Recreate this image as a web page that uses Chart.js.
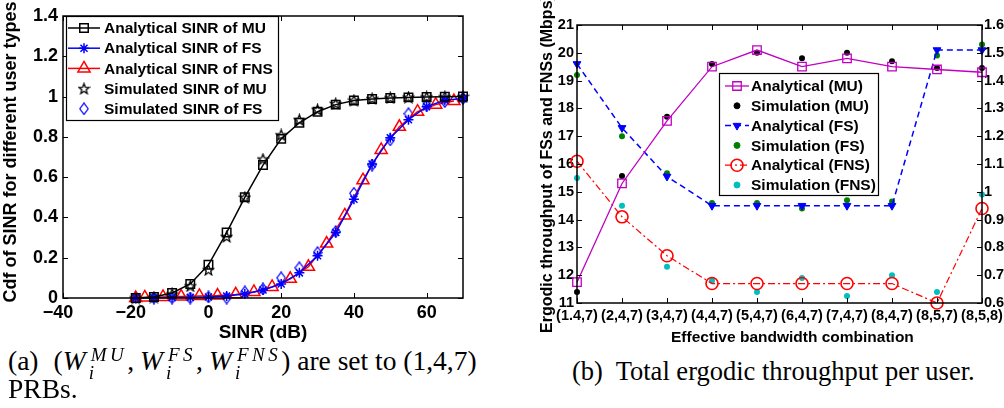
<!DOCTYPE html>
<html><head><meta charset="utf-8">
<script src="https://cdn.jsdelivr.net/npm/chart.js@4.4.1/dist/chart.umd.min.js"></script>
<style>
html,body{margin:0;padding:0;background:#fff;width:1004px;height:408px;overflow:hidden;position:relative}
canvas{position:absolute;top:0}
#cA{left:0}
#cB{left:500px}
.cap{position:absolute;font-family:'Liberation Serif','Times New Roman',serif;font-size:27.5px;line-height:30px;color:#000;white-space:nowrap}
.w{font-style:italic}
.ss{display:inline-block;position:relative;font-size:19px;font-style:italic;line-height:1;margin-left:5px}
.ss .sp{display:block;position:relative;top:-9px;letter-spacing:3.5px}
.ss .sb{position:absolute;left:-2px;top:9px}
.cm{margin-right:6px}
</style></head>
<body>
<canvas id="cA" width="480" height="345"></canvas>
<canvas id="cB" width="530" height="350"></canvas>
<div class="cap" style="left:8px;top:346px">(a)<span style="margin-left:15px">(</span><span class="w">W</span><span class="ss"><span class="sp">MU</span><span class="sb">i</span></span><span class="cm">,</span><span class="w">W</span><span class="ss"><span class="sp">FS</span><span class="sb">i</span></span><span class="cm">,</span><span class="w">W</span><span class="ss"><span class="sp">FNS</span><span class="sb">i</span></span>) are set to (1,4,7)</div>
<div class="cap" style="left:8px;top:374px">PRBs.</div>
<div class="cap" style="left:572px;top:356px;font-size:26.5px">(b)&nbsp; Total ergodic throughput per user.</div>
<script>
// ---------- (a) CDF of SINR ----------
const sinrDb = [-20,-15,-10,-5,0,5,10,15,20,25,30,35,40,45,50,55,60,65,70];
const cdfMuAnalytical = [0,0.005,0.025,0.07,0.165,0.325,0.5,0.66,0.79,0.87,0.925,0.96,0.98,0.988,0.993,0.996,0.998,0.999,1.0];
const cdfMuSimulated  = [0,0.004,0.02,0.06,0.14,0.305,0.5,0.69,0.81,0.885,0.935,0.965,0.982,0.99,0.994,0.997,0.998,0.999,1.0];
const cdfFsAnalytical = [0,0.001,0.002,0.003,0.005,0.01,0.02,0.04,0.07,0.125,0.21,0.325,0.49,0.665,0.795,0.885,0.95,0.982,0.99];
const cdfFsSimulated  = [0.002,0,0,0,0.005,0,0.03,0.045,0.1,0.15,0.225,0.33,0.52,0.66,0.785,0.915,0.955,0.975,0.99];
const sinrDbFns = [-20,-17.5,-12.5,-7.5,-2.5,2.5,7.5,12.5,17.5,22.5,27.5,32.5,37.5,42.5,47.5,52.5,57.5,62.5,67.5];
const cdfFnsAnalytical = [0,0.003,0.005,0.007,0.01,0.012,0.018,0.03,0.055,0.095,0.155,0.27,0.41,0.585,0.735,0.85,0.925,0.96,0.978];
const sinrTicks = [-40,-20,0,20,40,60];
const cdfTicks = [0,0.2,0.4,0.6,0.8,1,1.2,1.4];

// ---------- (b) Ergodic throughput ----------
const combos = ['(1.4,7)','(2,4,7)','(3,4,7)','(4,4,7)','(5,4,7)','(6,4,7)','(7,4,7)','(8,4,7)','(8,5,7)','(8,5,8)'];
const thrMuAnalytical  = [0.675,1.03,1.255,1.45,1.51,1.45,1.48,1.45,1.44,1.43];   // right axis
const thrMuSimulation  = [0.64,1.057,1.27,1.46,1.50,1.48,1.50,1.47,1.445,1.445];  // right axis
const thrFsAnalytical  = [19.6,17.3,15.55,14.5,14.5,14.5,14.5,14.5,20.1,20.1];
const thrFsSimulation  = [19.2,17.0,15.67,14.6,14.6,14.4,14.7,14.65,19.9,20.3];
const thrFnsAnalytical = [16.1,14.1,12.7,11.7,11.7,11.7,11.7,11.7,11.0,14.4];
const thrFnsSimulation = [15.5,14.5,12.3,11.8,11.4,11.9,11.25,12.0,11.4,14.9];
const leftTicks = [11,12,13,14,15,16,17,18,19,20,21];
const rightTicks = [0.6,0.7,0.8,0.9,1,1.1,1.2,1.3,1.4,1.5,1.6];

Chart.defaults.font.family = '"Liberation Sans", Arial, Helvetica, sans-serif';
Chart.defaults.font.weight = 'bold';
Chart.defaults.font.lineHeight = 1;
Chart.defaults.color = '#000';

function starImg(size, color){
  const c = document.createElement('canvas'); c.width = c.height = size;
  const g = c.getContext('2d'); const cx = size/2, cy = size/2+0.5, R = size/2-1, r = R*0.42;
  g.beginPath();
  for(let k=0;k<10;k++){ const a = -Math.PI/2 + k*Math.PI/5; const rr = k%2 ? r : R; g.lineTo(cx+rr*Math.cos(a), cy+rr*Math.sin(a)); }
  g.closePath(); g.strokeStyle = color; g.lineWidth = 1.3; g.stroke();
  return c;
}
function diamondImg(w, h, color){
  const c = document.createElement('canvas'); c.width = w; c.height = h;
  const g = c.getContext('2d');
  g.beginPath(); g.moveTo(w/2,0.8); g.lineTo(w-0.8,h/2); g.lineTo(w/2,h-0.8); g.lineTo(0.8,h/2); g.closePath();
  g.strokeStyle = color; g.lineWidth = 1.2; g.stroke();
  return c;
}
const fmt = v => String(Math.round(v*10)/10);
const fmtX = v => v < 0 ? String(v).replace('-', '\u2212') + '  ' : String(v);

const boxTicks = {
  id:'boxTicks',
  afterDatasetsDraw(chart){
    const {ctx, chartArea:a} = chart; const L = 5;
    ctx.save(); ctx.strokeStyle = '#000'; ctx.lineWidth = 1; ctx.setLineDash([]);
    ctx.beginPath();
    const x = chart.scales.x;
    x.ticks.forEach((t,i)=>{ const p = Math.round(x.getPixelForTick(i))+0.5; ctx.moveTo(p,a.bottom); ctx.lineTo(p,a.bottom-L); ctx.moveTo(p,a.top); ctx.lineTo(p,a.top+L); });
    const y = chart.scales.y, y1 = chart.scales.y1;
    y.ticks.forEach((t,i)=>{ const p = Math.round(y.getPixelForTick(i))+0.5; ctx.moveTo(a.left,p); ctx.lineTo(a.left+L,p); if(!y1){ ctx.moveTo(a.right,p); ctx.lineTo(a.right-L,p); } });
    if (y1) y1.ticks.forEach((t,i)=>{ const p = Math.round(y1.getPixelForTick(i))+0.5; ctx.moveTo(a.right,p); ctx.lineTo(a.right-L,p); });
    ctx.stroke();
    ctx.lineWidth = 1.5;
    ctx.strokeRect(a.left, a.top, a.right-a.left, a.bottom-a.top);
    ctx.restore();
  }
};
const boxLegend = {
  id:'boxLegend',
  afterDraw(chart, args, o){
    if(!o || !o.w) return;
    const ctx = chart.ctx; ctx.save();
    ctx.fillStyle = '#fff'; ctx.fillRect(o.x, o.y, o.w, o.h);
    ctx.strokeStyle = '#000'; ctx.lineWidth = 1.2; ctx.strokeRect(o.x+0.5, o.y+0.5, o.w, o.h);
    ctx.font = 'bold ' + o.fontSize + 'px "Liberation Sans", Arial, sans-serif';
    ctx.textBaseline = 'middle'; ctx.textAlign = 'left';
    chart.data.datasets.forEach((ds,i)=>{
      const yy = o.y0 + i*o.dy;
      if (ds.showLine !== false){
        ctx.strokeStyle = ds.borderColor; ctx.lineWidth = ds.borderWidth || 1;
        ctx.setLineDash(ds.borderDash || []);
        ctx.beginPath(); ctx.moveTo(o.lx0, yy); ctx.lineTo(o.lx1, yy); ctx.stroke();
        ctx.setLineDash([]);
      }
      ctx.fillStyle = ds.pointBackgroundColor || 'rgba(0,0,0,0)';
      ctx.strokeStyle = ds.pointBorderColor || ds.borderColor;
      ctx.lineWidth = ds.pointBorderWidth || 1;
      Chart.helpers.drawPoint(ctx, {pointStyle: ds.pointStyle, rotation: ds.pointRotation || 0, radius: ds.pointRadius, borderWidth: ds.pointBorderWidth || 1}, (o.lx0+o.lx1)/2, yy);
      ctx.fillStyle = '#000';
      ctx.fillText(ds.label, o.tx, yy + 1);
    });
    ctx.restore();
  }
};

const hollow = 'rgba(0,0,0,0)';
const pts = (xs, ys) => xs.map((x,i)=>({x, y: ys[i]}));
const noGrid = {display:false, drawTicks:false};

new Chart(document.getElementById('cA'), {
  type: 'line',
  data: { datasets: [
    { label:'Analytical SINR of MU', data: pts(sinrDb, cdfMuAnalytical), borderColor:'#000', borderWidth:1.5,
      pointStyle:'rect', pointRadius:6, pointBorderWidth:1.5, pointBackgroundColor:hollow, pointBorderColor:'#000', clip:false },
    { label:'Analytical SINR of FS', data: pts(sinrDb, cdfFsAnalytical), borderColor:'#0000ff', borderWidth:1.5,
      pointStyle:'star', pointRadius:5, pointBorderWidth:1.5, pointBackgroundColor:hollow, pointBorderColor:'#0000ff', clip:false },
    { label:'Analytical SINR of FNS', data: pts(sinrDbFns, cdfFnsAnalytical), borderColor:'#ff0000', borderWidth:1.5,
      pointStyle:'triangle', pointRadius:7, pointBorderWidth:1.5, pointBackgroundColor:hollow, pointBorderColor:'#ff0000', clip:false },
    { label:'Simulated SINR of MU', data: pts(sinrDb, cdfMuSimulated), showLine:false, borderColor:'#000',
      pointStyle: starImg(13,'#000'), pointRadius:6, clip:false },
    { label:'Simulated SINR of FS', data: pts(sinrDb, cdfFsSimulated), showLine:false, borderColor:'#0000ff',
      pointStyle: diamondImg(10,13,'#0000ff'), pointRadius:6, clip:false }
  ]},
  options: {
    responsive:false, animation:false, devicePixelRatio:1,
    layout:{ padding:{ left:0, top:16, right:17, bottom:3 } },
    plugins:{ legend:{display:false}, tooltip:{enabled:false},
      boxLegend:{ x:66, y:16, w:212, h:104, y0:28, dy:20.2, lx0:68, lx1:100, tx:104, fontSize:15.5 } },
    scales:{
      x:{ type:'linear', min:-40, max:70, grid:noGrid, border:{display:false},
          afterBuildTicks: s => { s.ticks = sinrTicks.map(v=>({value:v})); },
          afterFit: s => { s.height = 44; },
          ticks:{ font:{size:18}, padding:6, callback: fmtX, maxRotation:0 },
          title:{ display:true, text:'SINR (dB)', font:{size:19}, padding:0 } },
      y:{ type:'linear', min:0, max:1.4, grid:noGrid, border:{display:false},
          afterBuildTicks: s => { s.ticks = cdfTicks.map(v=>({value:v})); },
          afterFit: s => { s.width = 63; },
          ticks:{ font:{size:18}, padding:5, callback: fmt },
          title:{ display:true, text:'  Cdf of SINR for different user types', font:{size:18}, padding:{top:2,bottom:0} } }
    }
  },
  plugins:[boxTicks, boxLegend]
});

new Chart(document.getElementById('cB'), {
  type: 'line',
  data: { labels: combos, datasets: [
    { label:'Analytical (MU)', data: thrMuAnalytical, yAxisID:'y1', borderColor:'#c000c0', borderWidth:1.3,
      pointStyle:'rect', pointRadius:6, pointBorderWidth:1.3, pointBackgroundColor:hollow, pointBorderColor:'#c000c0', clip:false },
    { label:'Simulation (MU)', data: thrMuSimulation, yAxisID:'y1', showLine:false, borderColor:'#000',
      pointStyle:'circle', pointRadius:3, pointBorderWidth:0, pointBackgroundColor:'#000', pointBorderColor:'#000', clip:false },
    { label:'Analytical (FS)', data: thrFsAnalytical, yAxisID:'y', borderColor:'#0000ff', borderWidth:1.5, borderDash:[6,4],
      pointStyle:'triangle', pointRotation:180, pointRadius:4.5, pointBorderWidth:1, pointBackgroundColor:'#0000ff', pointBorderColor:'#0000ff', clip:false },
    { label:'Simulation (FS)', data: thrFsSimulation, yAxisID:'y', showLine:false, borderColor:'#008000',
      pointStyle:'circle', pointRadius:3, pointBorderWidth:0, pointBackgroundColor:'#008000', pointBorderColor:'#008000', clip:false },
    { label:'Analytical (FNS)', data: thrFnsAnalytical, yAxisID:'y', borderColor:'#ff0000', borderWidth:1.2, borderDash:[7,3,2,3],
      pointStyle:'circle', pointRadius:6, pointBorderWidth:1.6, pointBackgroundColor:hollow, pointBorderColor:'#ff0000', clip:false },
    { label:'Simulation (FNS)', data: thrFnsSimulation, yAxisID:'y', showLine:false, borderColor:'#00bfbf',
      pointStyle:'circle', pointRadius:3, pointBorderWidth:0, pointBackgroundColor:'#00bfbf', pointBorderColor:'#00bfbf', clip:false }
  ]},
  options: {
    responsive:false, animation:false, devicePixelRatio:1,
    layout:{ padding:{ left:40, top:25, right:0, bottom:5 } },
    plugins:{ legend:{display:false}, tooltip:{enabled:false},
      boxLegend:{ x:219, y:73, w:159, h:122, y0:86, dy:19.8, lx0:225, lx1:249, tx:251, fontSize:15.5 } },
    scales:{
      x:{ type:'category', offset:false, grid:{display:false, drawTicks:false, offset:false}, border:{display:false},
          afterFit: s => { s.height = 42; },
          ticks:{ font:{size:14.5}, padding:6, autoSkip:false, maxRotation:0, minRotation:0 },
          title:{ display:true, text:'      Effective bandwidth combination', font:{size:15.5}, padding:0 } },
      y:{ type:'linear', position:'left', min:11, max:21, grid:noGrid, border:{display:false},
          afterBuildTicks: s => { s.ticks = leftTicks.map(v=>({value:v})); },
          afterFit: s => { s.width = 37; },
          ticks:{ font:{size:14.5}, padding:3, callback: fmt },
          title:{ display:true, text:'Ergodic throughput of FSs and FNSs (Mbps)', font:{size:16}, padding:0 } },
      y1:{ type:'linear', position:'right', min:0.6, max:1.6, grid:noGrid, border:{display:false},
          afterBuildTicks: s => { s.ticks = rightTicks.map(v=>({value:v})); },
          afterFit: s => { s.width = 48; },
          ticks:{ font:{size:14.5}, padding:2, callback: fmt } }
    }
  },
  plugins:[boxTicks, boxLegend]
});
</script>
</body></html>
